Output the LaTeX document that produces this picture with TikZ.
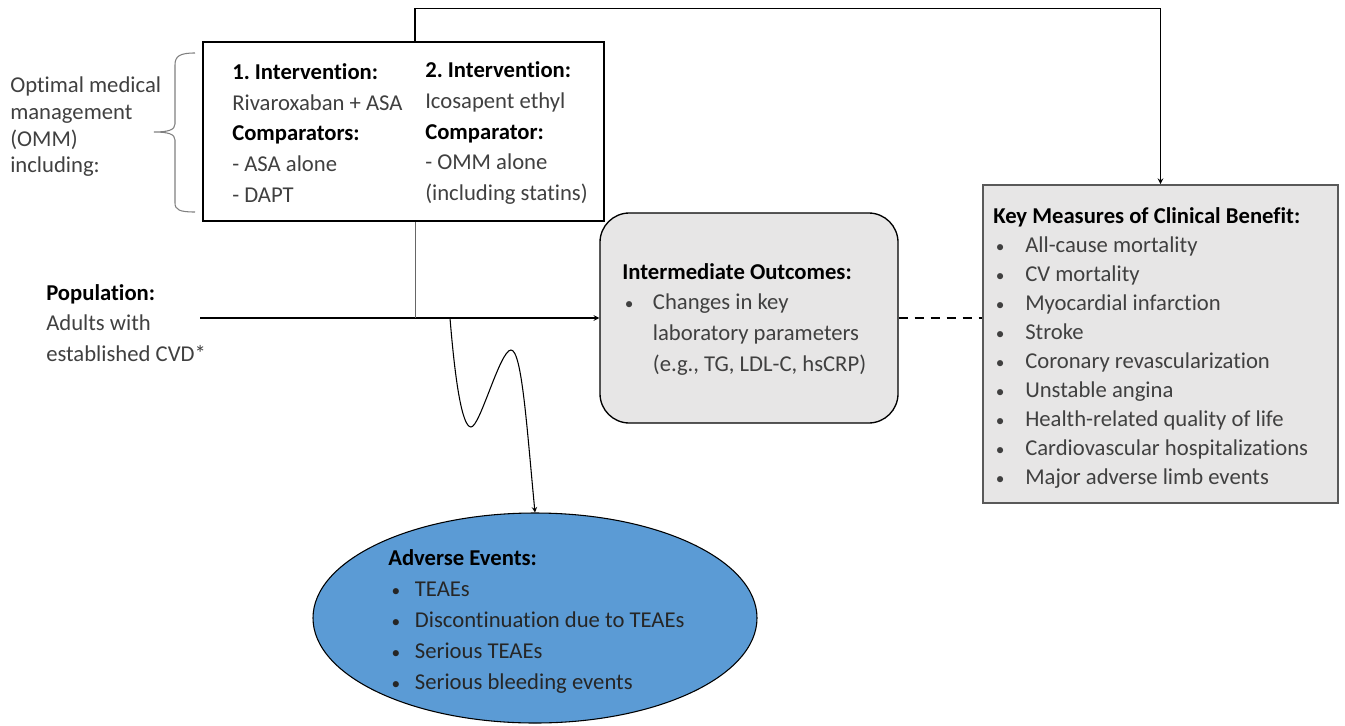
\documentclass[tikz,border=0pt]{standalone}
\usepackage{fontspec}
\setmainfont{Carlito}[Ligatures=NoCommon]
\usepackage{tikz}
\usetikzlibrary{shapes.geometric, positioning, arrows, calc}
\definecolor{textGray}{HTML}{404040}
\definecolor{boxGray}{HTML}{E7E6E6}
\definecolor{borderGray}{HTML}{595959}
\definecolor{aeBlue}{HTML}{5B9BD5}
\newcommand{\hdr}[1]{\textcolor{black}{\textbf{#1}}}
\newcommand{\bitem}[3]{\makebox[#1][l]{\hspace{#2}{\fontsize{13}{13}\selectfont\textbullet}}#3}
\frenchspacing

\begin{document}
\begin{tikzpicture}[
    x=0.75pt, y=-0.75pt,
    every node/.style={font=\fontsize{17}{22.9}\selectfont, align=left, text=textGray},
    interbox/.style={
        rectangle, draw=black, fill=white, line width=1.1pt,
        minimum width=300.75pt, minimum height=134pt
    },
    grayround/.style={
        rectangle, rounded corners=22pt,
        draw=black, fill=boxGray, line width=1pt,
        minimum width=223.5pt, minimum height=157.5pt
    },
    graybox/.style={
        rectangle,
        draw=borderGray, fill=boxGray, line width=1.4pt,
        minimum width=266pt, minimum height=238.5pt
    },
    aeellipse/.style={
        ellipse,
        draw=black, fill=aeBlue, line width=0.8pt,
        minimum width=333pt, minimum height=157.5pt
    },
    txt/.style={anchor=west, inner sep=0pt},
    arrow/.style={->, >=stealth, line width=0.9pt, draw=black},
]
\useasboundingbox (0,0) rectangle (1345,725);

% === LEFT SIDE ===
\node[txt, font=\fontsize{17}{20}\selectfont] (omm) at (10,127)
    {Optimal medical\\management\\(OMM)\\including:};

% brace
\draw[draw=gray, line width=0.8pt]
    (195,53) .. controls (180,53) and (175,56) .. (175,65) -- (175,124)
    .. controls (175,130) and (168,132) .. (154,132)
    .. controls (168,132) and (175,134) .. (175,140) -- (175,203)
    .. controls (175,210) and (180,212) .. (195,212);

\node[txt] (pop) at (46,323) {\hdr{Population:}\\Adults with\\established CVD*};

% === MAIN NODES ===
\node[interbox] (interv) at (403.5,131.5) {};
\node[txt] (int1) at (232,133)
    {\hdr{1. Intervention:}\\Rivaroxaban + ASA\\\hdr{Comparators:}\\- ASA alone\\- DAPT};
\node[txt] (int2) at (425,133)
    {\hdr{2. Intervention:}\\Icosapent ethyl\\\hdr{Comparator:}\\- OMM alone\\(including statins)};

\node[grayround] (inter) at (749,318) {};
\node[txt, font=\fontsize{17}{23}\selectfont] (intertext) at (622,319) {
    \hdr{Intermediate Outcomes:}\\
    \bitem{23pt}{2pt}{Changes in key}\\
    \hspace*{23pt}laboratory parameters\\
    \hspace*{23pt}(e.g., TG, LDL-C, hsCRP)};

\node[graybox] (km) at (1160.5,344) {};
\node[txt, font=\fontsize{17}{21.8}\selectfont] (kmtext) at (993,348) {
    \hdr{Key Measures of Clinical Benefit:}\\
    \bitem{24pt}{2pt}{All-cause mortality}\\
    \bitem{24pt}{2pt}{CV mortality}\\
    \bitem{24pt}{2pt}{Myocardial infarction}\\
    \bitem{24pt}{2pt}{Stroke}\\
    \bitem{24pt}{2pt}{Coronary revascularization}\\
    \bitem{24pt}{2pt}{Unstable angina}\\
    \bitem{24pt}{2pt}{Health-related quality of life}\\
    \bitem{24pt}{2pt}{Cardiovascular hospitalizations}\\
    \bitem{24pt}{2pt}{Major adverse limb events}};

\node[aeellipse] (ae) at (535,618) {};
\node[txt, text=black!85, font=\fontsize{17}{23.25}\selectfont] (aetext) at (388,621) {
    \hdr{Adverse Events:}\\
    \bitem{20pt}{2.5pt}{TEAEs}\\
    \bitem{20pt}{2.5pt}{Discontinuation due to TEAEs}\\
    \bitem{20pt}{2.5pt}{Serious TEAEs}\\
    \bitem{20pt}{2.5pt}{Serious bleeding events}};

% === ARROWS ===
\coordinate (popout) at (200,318);
\coordinate (split) at (415,318);
\coordinate (aeout) at (450,318);

% population → intermediate outcomes
\draw[arrow] (popout) -- (inter.west);

% split → over the top → key measures
\draw[draw=gray!80!black, line width=0.6pt] (split) -- (split |- interv.south);
\draw[arrow] (split |- interv.north) -- ++(0,-33) -| (km.north);

% intermediate outcomes → key measures (dashed)
\draw[dashed, dash pattern=on 7pt off 5pt, line width=1pt] (inter.east) -- (inter.east -| km.west);

% main line → adverse events (wavy)
\draw[arrow, line width=0.8pt] (aeout)
    .. controls (455,380) and (462,427) .. (471,427)
    .. controls (480,427) and (500,350) .. (511,350)
    .. controls (522,350) and (527,430) .. (ae.north);
\end{tikzpicture}
\end{document}
